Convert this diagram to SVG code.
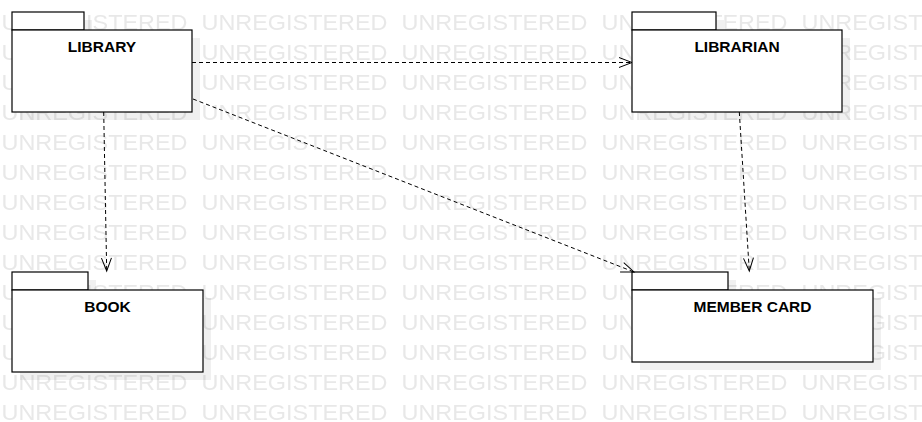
<svg xmlns="http://www.w3.org/2000/svg" width="922" height="422" viewBox="0 0 922 422">
<defs>
<style>
.wm{font-family:"Liberation Sans",Arial,sans-serif;font-size:22.5px;fill:#e8e8e8}
.shadow{fill:#000;fill-opacity:0.06}
.pkg{fill:#fff;stroke:#000;stroke-width:1.2}
.lbl{font-family:"Liberation Sans",Arial,sans-serif;font-size:15.5px;font-weight:bold;fill:#000;text-anchor:middle}
.dep{fill:none;stroke:#000;stroke-width:1;stroke-dasharray:4 3}
</style>
<pattern id="wmp" x="1" y="0" width="200" height="30" patternUnits="userSpaceOnUse">
<text class="wm" x="0.5" y="29.5" textLength="186" lengthAdjust="spacingAndGlyphs">UNREGISTERED</text>
</pattern>
<marker id="open" viewBox="-14 -7 16 14" refX="0" refY="0" markerWidth="16" markerHeight="14" markerUnits="userSpaceOnUse" orient="auto">
<path d="M-13,-5 L0,0 L-13,5" fill="none" stroke="#000" stroke-width="1"/>
</marker>
</defs>
<rect width="922" height="422" fill="#fff"/>
<rect width="922" height="422" fill="url(#wmp)"/>

<g id="library">
<path class="shadow" d="M20,20 H92 V38 H200 V120 H20 Z"/>
<rect class="pkg" x="12" y="12" width="72" height="18"/>
<rect class="pkg" x="12" y="30" width="180" height="82"/>
<text class="lbl" x="102" y="52">LIBRARY</text>
</g>

<g id="librarian">
<path class="shadow" d="M640,20 H724 V38 H850 V120 H640 Z"/>
<rect class="pkg" x="632" y="12" width="84" height="18"/>
<rect class="pkg" x="632" y="30" width="210" height="82"/>
<text class="lbl" x="737" y="52">LIBRARIAN</text>
</g>

<g id="book">
<path class="shadow" d="M20,280 H96 V298 H211 V380 H20 Z"/>
<rect class="pkg" x="12" y="272" width="76" height="18"/>
<rect class="pkg" x="12" y="290" width="191" height="82"/>
<text class="lbl" x="107.5" y="312">BOOK</text>
</g>

<g id="member-card">
<path class="shadow" d="M640,280 H736 V298 H881 V370 H640 Z"/>
<rect class="pkg" x="632" y="272" width="96" height="18"/>
<rect class="pkg" x="632" y="290" width="241" height="72"/>
<text class="lbl" x="752.5" y="312">MEMBER CARD</text>
</g>

<g id="connectors">
<line class="dep" x1="192" y1="62.5" x2="632" y2="62.5" marker-end="url(#open)"/>
<line class="dep" x1="193" y1="99" x2="634" y2="272" marker-end="url(#open)"/>
<line class="dep" x1="103.7" y1="112" x2="106.7" y2="271" marker-end="url(#open)"/>
<line class="dep" x1="739.3" y1="112" x2="749.3" y2="271" marker-end="url(#open)"/>
</g>
</svg>
